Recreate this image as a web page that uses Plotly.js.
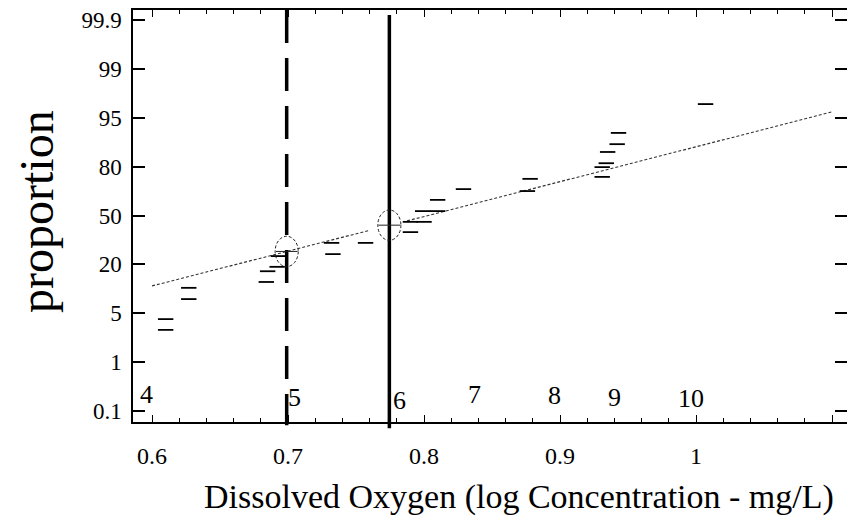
<!DOCTYPE html>
<html>
<head>
<meta charset="utf-8">
<script src="https://cdn.plot.ly/plotly-3.0.1.min.js"></script>
<style>html,body{margin:0;padding:0;background:#fff;}#chart{width:847px;height:522px;}</style>
</head>
<body>
<div id="chart"></div>
<script>
// Y axis: evenly spaced probability labels (position index -> label)
const probTickPos = [0, 1, 2, 3, 4, 5, 6, 7, 8];
const probTickLabels = ["0.1", "1", "5", "20", "50", "80", "95", "99", "99.9"];
const xTickVals = [0.6, 0.7, 0.8, 0.9, 1.0, 1.1];
const xTickLabels = ["0.6", "0.7", "0.8", "0.9", "1", "1.1"];

// Observed data (log10 DO concentration, probability-axis position)
const obsX = [0.610, 0.610, 0.627, 0.627, 0.684, 0.685, 0.692, 0.693, 0.732, 0.733, 0.757,
              0.790, 0.790, 0.800, 0.799, 0.810, 0.810, 0.829, 0.876, 0.878,
              0.931, 0.931, 0.934, 0.935, 0.942, 0.943, 1.007];
const obsY = [1.88, 1.66, 2.52, 2.29, 2.64, 2.86, 2.95, 3.17, 3.44, 3.21, 3.44,
              3.66, 3.87, 3.87, 4.09, 4.09, 4.32, 4.54, 4.50, 4.75,
              4.79, 4.99, 5.07, 5.30, 5.46, 5.69, 6.28];

// Fitted line, broken near the 6 mg/L criterion
const fitX = [0.6, 0.759, null, 0.7875, 1.1];
const fitY = [2.56, 3.69, null, 3.89, 6.12];

// Criteria lines (log10 mg/L, as drawn)
const criteriaX = [0.699, 0.7745];
const criteriaDash = ["33px,15px", "solid"];

// Concentration labels (mg/L) and their positions
const concLabels = ["4", "5", "6", "7", "8", "9", "10"];
const concLabelX = [0.5956, 0.7051, 0.7820, 0.8368, 0.8956, 0.9397, 0.9963];
const concLabelY = [0.33, 0.27, 0.21, 0.33, 0.31, 0.27, 0.25];

const serif = "Liberation Serif";

function fitAt(x) {
  const x0 = fitX[0], y0 = fitY[0], x1 = fitX[fitX.length - 1], y1 = fitY[fitY.length - 1];
  return y0 + (x - x0) * (y1 - y0) / (x1 - x0);
}

const traces = [
  {
    x: fitX, y: fitY, mode: "lines", type: "scatter", connectgaps: false,
    line: {color: "#333", width: 1.1, dash: "3px,2px"}, hoverinfo: "skip", showlegend: false
  },
  {
    x: obsX, y: obsY, mode: "markers", type: "scatter",
    marker: {symbol: "line-ew", size: 11, color: "#000", line: {color: "#000", width: 1.8}},
    showlegend: false
  }
];

const shapes = [];
criteriaX.forEach((lx, i) => {
  shapes.push({
    type: "line", xref: "x", yref: "paper", x0: lx, x1: lx,
    y0: i === 0 ? 1.0 : 0.988, y1: i === 0 ? -0.008 : -0.015,
    line: {color: "#000", width: 3.5, dash: criteriaDash[i]}, layer: "above"
  });
  const cy = fitAt(lx);
  shapes.push({
    type: "circle", xref: "x", yref: "y",
    x0: lx - 0.0085, x1: lx + 0.0085, y0: cy - 0.31, y1: cy + 0.31,
    line: {color: "#222", width: 1, dash: "3px,2px"}
  });
  shapes.push({
    type: "line", xref: "x", yref: "y",
    x0: lx - 0.008, x1: lx + 0.008, y0: cy, y1: cy,
    line: {color: "#222", width: 1}
  });
});

const annotations = concLabels.map((t, i) => ({
  text: t, x: concLabelX[i], y: concLabelY[i], xref: "x", yref: "y",
  showarrow: false, font: {family: serif, size: 26, color: "#000"},
  xanchor: "center", yanchor: "middle"
}));
annotations.push({
  text: "Dissolved Oxygen (log Concentration - mg/L)", xref: "paper", yref: "paper",
  x: 0.54, y: -0.182, xanchor: "center", yanchor: "middle", showarrow: false,
  font: {family: serif, size: 34, color: "#000"}
});
annotations.push({
  text: "proportion", xref: "paper", yref: "paper", textangle: -90,
  x: -0.136, y: 0.512, xanchor: "center", yanchor: "middle", showarrow: false,
  font: {family: serif, size: 48, color: "#000"}
});

const layout = {
  width: 847, height: 522,
  margin: {l: 133, r: 0, t: 10, b: 100},
  paper_bgcolor: "#fff", plot_bgcolor: "#fff",
  showlegend: false,
  xaxis: {
    range: [0.586, 1.111], tickvals: xTickVals, ticktext: xTickLabels,
    ticks: "inside", ticklen: 7, tickwidth: 1.2, tickcolor: "#000",
    showline: true, linecolor: "#000", linewidth: 2, mirror: "ticks",
    showgrid: false, zeroline: false, ticklabelstandoff: 11,
    minor: {dtick: 0.02, tick0: 0.6, ticks: "inside", ticklen: 4, tickcolor: "#000", tickwidth: 1, showgrid: false},
    tickfont: {family: serif, size: 24, color: "#000"}
  },
  yaxis: {
    range: [-0.225, 8.205], tickvals: probTickPos, ticktext: probTickLabels,
    ticks: "inside", ticklen: 12, tickwidth: 1.5, tickcolor: "#000",
    showline: true, linecolor: "#000", linewidth: 1.5, mirror: "ticks",
    showgrid: false, zeroline: false, ticklabelstandoff: 5,
    tickfont: {family: serif, size: 23, color: "#000"}
  },
  shapes: shapes,
  annotations: annotations,
  font: {family: serif, color: "#000"}
};

Plotly.newPlot("chart", traces, layout, {displayModeBar: false});
</script>
</body>
</html>
